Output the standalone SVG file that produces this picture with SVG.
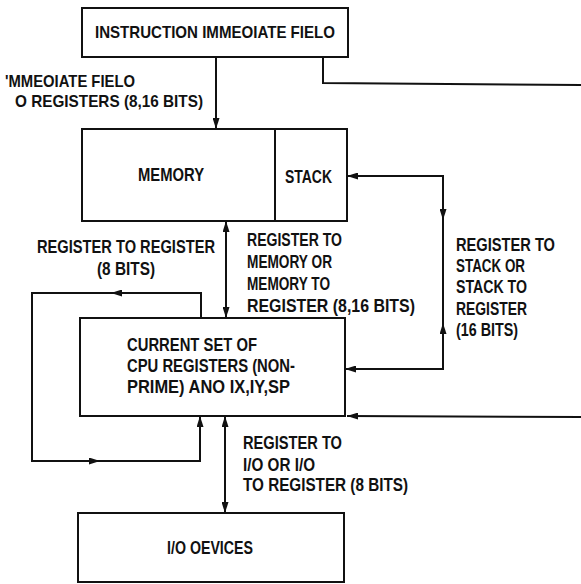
<svg xmlns="http://www.w3.org/2000/svg" width="581" height="584" viewBox="0 0 581 584">
<style>
  .box { fill: none; stroke: #111; stroke-width: 2; }
  .ln { fill: none; stroke: #111; stroke-width: 2; }
  .t { font-family: "Liberation Sans", Arial, sans-serif; font-size: 18px; font-weight: bold; fill: #111; }
  .ts { font-size: 17px; }
</style>
<defs>
  <marker id="ah" viewBox="0 0 11 7" refX="11" refY="3.5" markerWidth="11" markerHeight="7" markerUnits="userSpaceOnUse" orient="auto-start-reverse">
    <path d="M0,0 L11,3.5 L0,7 z" fill="#111"/>
  </marker>
</defs>
<rect width="581" height="584" fill="#fff"/>

<g id="connectors">
  <path class="ln" d="M216,57 L216,129" marker-end="url(#ah)"/>
  <path class="ln" d="M323,57 L323,83 L581,85"/>
  <path class="ln" d="M226,221 L226,318" marker-start="url(#ah)" marker-end="url(#ah)"/>
  <path class="ln" d="M347,176 L443,176 L443,369 L345,369" marker-start="url(#ah)" marker-end="url(#ah)"/>
  <path class="ln" d="M443,200 L443,220" marker-end="url(#ah)"/>
  <path class="ln" d="M443,340 L443,323" marker-end="url(#ah)"/>
  <path class="ln" d="M201,318 L201,293 L32,293 L32,461 L200,461 L200,416" marker-end="url(#ah)"/>
  <path class="ln" d="M140,293 L111,293" marker-end="url(#ah)"/>
  <path class="ln" d="M70,461 L100,461" marker-end="url(#ah)"/>
  <path class="ln" d="M225,416 L225,513" marker-start="url(#ah)" marker-end="url(#ah)"/>
  <path class="ln" d="M581,417 L347,416" marker-end="url(#ah)"/>
</g>

<g id="instruction">
  <rect class="box" x="82" y="8" width="266" height="49"/>
  <text class="t ts" x="95" y="38" textLength="240" lengthAdjust="spacingAndGlyphs">INSTRUCTION IMMEOIATE FIELO</text>
</g>

<g id="label-immediate">
  <text class="t ts" x="5" y="87" textLength="130" lengthAdjust="spacingAndGlyphs">'MMEOIATE FIELO</text>
  <text class="t ts" x="15" y="107" textLength="188" lengthAdjust="spacingAndGlyphs">O REGISTERS (8,16 BITS)</text>
</g>

<g id="memory">
  <rect class="box" x="82" y="129" width="265" height="92"/>
  <line class="ln" x1="275" y1="129" x2="275" y2="221"/>
  <text class="t" x="138" y="181" textLength="66" lengthAdjust="spacingAndGlyphs">MEMORY</text>
</g>

<g id="stack">
  <text class="t" x="285" y="183" textLength="47" lengthAdjust="spacingAndGlyphs">STACK</text>
</g>

<g id="label-reg-reg">
  <text class="t" x="37" y="253" textLength="178" lengthAdjust="spacingAndGlyphs">REGISTER TO REGISTER</text>
  <text class="t" x="97" y="275" textLength="58" lengthAdjust="spacingAndGlyphs">(8 BITS)</text>
</g>

<g id="label-reg-mem">
  <text class="t" x="247" y="246" textLength="95" lengthAdjust="spacingAndGlyphs">REGISTER TO</text>
  <text class="t" x="247" y="268" textLength="85" lengthAdjust="spacingAndGlyphs">MEMORY OR</text>
  <text class="t" x="247" y="290" textLength="83" lengthAdjust="spacingAndGlyphs">MEMORY TO</text>
  <text class="t" x="247" y="312" textLength="168" lengthAdjust="spacingAndGlyphs">REGISTER (8,16 BITS)</text>
</g>

<g id="label-reg-stack">
  <text class="t" x="456" y="251" textLength="99" lengthAdjust="spacingAndGlyphs">REGISTER TO</text>
  <text class="t" x="456" y="272" textLength="69" lengthAdjust="spacingAndGlyphs">STACK OR</text>
  <text class="t" x="456" y="293" textLength="71" lengthAdjust="spacingAndGlyphs">STACK TO</text>
  <text class="t" x="456" y="315" textLength="71" lengthAdjust="spacingAndGlyphs">REGISTER</text>
  <text class="t" x="456" y="336" textLength="62" lengthAdjust="spacingAndGlyphs">(16 BITS)</text>
</g>

<g id="cpu">
  <rect class="box" x="80" y="318" width="265" height="98"/>
  <text class="t" x="127" y="351" textLength="130" lengthAdjust="spacingAndGlyphs">CURRENT SET OF</text>
  <text class="t" x="127" y="372" textLength="168" lengthAdjust="spacingAndGlyphs">CPU REGISTERS (NON-</text>
  <text class="t" x="127" y="393" textLength="163" lengthAdjust="spacingAndGlyphs">PRIME) ANO IX,IY,SP</text>
</g>

<g id="label-reg-io">
  <text class="t" x="243" y="449" textLength="99" lengthAdjust="spacingAndGlyphs">REGISTER TO</text>
  <text class="t" x="243" y="471" textLength="72" lengthAdjust="spacingAndGlyphs">I/O OR I/O</text>
  <text class="t" x="243" y="491" textLength="165" lengthAdjust="spacingAndGlyphs">TO REGISTER (8 BITS)</text>
</g>

<g id="io">
  <rect class="box" x="78" y="513" width="266" height="69"/>
  <text class="t" x="167" y="554" textLength="86" lengthAdjust="spacingAndGlyphs">I/O OEVICES</text>
</g>
</svg>
